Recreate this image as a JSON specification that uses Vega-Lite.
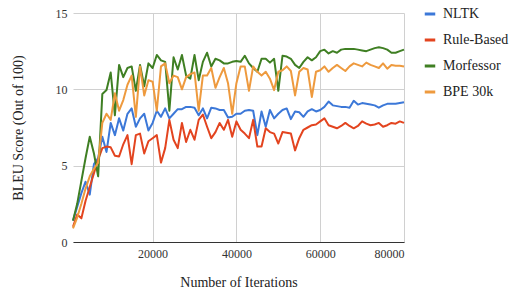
{
  "$schema": "https://vega.github.io/schema/vega-lite/v6.json",
  "autosize": {"type": "none"},
  "width": 331,
  "height": 229,
  "padding": {"left": 73, "top": 13, "right": 108, "bottom": 58},
  "background": "white",
  "datasets": {
    "d": [
      {"i":1000,"m":"NLTK","b":1.4},{"i":2000,"m":"NLTK","b":2.3},{"i":3000,"m":"NLTK","b":3.2},{"i":4000,"m":"NLTK","b":3.95},{"i":5000,"m":"NLTK","b":3.1},{"i":6000,"m":"NLTK","b":5.1},{"i":7000,"m":"NLTK","b":5.5},{"i":8000,"m":"NLTK","b":6.9},{"i":9000,"m":"NLTK","b":5.9},{"i":10000,"m":"NLTK","b":7.8},
      {"i":11000,"m":"NLTK","b":7.0},{"i":12000,"m":"NLTK","b":8.1},{"i":13000,"m":"NLTK","b":7.3},{"i":14000,"m":"NLTK","b":8.4},{"i":15000,"m":"NLTK","b":8.75},{"i":16000,"m":"NLTK","b":7.55},{"i":17000,"m":"NLTK","b":8.1},{"i":18000,"m":"NLTK","b":8.4},{"i":19000,"m":"NLTK","b":7.3},{"i":20000,"m":"NLTK","b":7.8},
      {"i":21000,"m":"NLTK","b":8.6},{"i":22000,"m":"NLTK","b":8.2},{"i":23000,"m":"NLTK","b":8.75},{"i":24000,"m":"NLTK","b":8.1},{"i":25000,"m":"NLTK","b":8.4},{"i":26000,"m":"NLTK","b":8.7},{"i":27000,"m":"NLTK","b":8.7},{"i":28000,"m":"NLTK","b":8.85},{"i":29000,"m":"NLTK","b":8.85},{"i":30000,"m":"NLTK","b":8.8},
      {"i":31000,"m":"NLTK","b":8.3},{"i":32000,"m":"NLTK","b":8.75},{"i":33000,"m":"NLTK","b":8.1},{"i":34000,"m":"NLTK","b":8.8},{"i":35000,"m":"NLTK","b":8.75},{"i":36000,"m":"NLTK","b":8.65},{"i":37000,"m":"NLTK","b":8.65},{"i":38000,"m":"NLTK","b":8.15},{"i":39000,"m":"NLTK","b":8.2},{"i":40000,"m":"NLTK","b":8.4},
      {"i":41000,"m":"NLTK","b":8.4},{"i":42000,"m":"NLTK","b":8.6},{"i":43000,"m":"NLTK","b":8.65},{"i":44000,"m":"NLTK","b":8.6},{"i":45000,"m":"NLTK","b":7.0},{"i":46000,"m":"NLTK","b":8.55},{"i":47000,"m":"NLTK","b":7.55},{"i":48000,"m":"NLTK","b":8.65},{"i":49000,"m":"NLTK","b":8.1},{"i":50000,"m":"NLTK","b":8.4},
      {"i":51000,"m":"NLTK","b":8.65},{"i":52000,"m":"NLTK","b":8.75},{"i":53000,"m":"NLTK","b":8.05},{"i":54000,"m":"NLTK","b":8.55},{"i":55000,"m":"NLTK","b":8.5},{"i":56000,"m":"NLTK","b":8.2},{"i":57000,"m":"NLTK","b":8.55},{"i":58000,"m":"NLTK","b":8.7},{"i":59000,"m":"NLTK","b":8.55},{"i":60000,"m":"NLTK","b":8.65},
      {"i":61000,"m":"NLTK","b":8.85},{"i":62000,"m":"NLTK","b":9.2},{"i":63000,"m":"NLTK","b":8.95},{"i":64000,"m":"NLTK","b":8.9},{"i":65000,"m":"NLTK","b":8.85},{"i":66000,"m":"NLTK","b":8.85},{"i":67000,"m":"NLTK","b":8.8},{"i":68000,"m":"NLTK","b":9.25},{"i":69000,"m":"NLTK","b":9.0},{"i":70000,"m":"NLTK","b":9.1},
      {"i":71000,"m":"NLTK","b":9.05},{"i":72000,"m":"NLTK","b":9.0},{"i":73000,"m":"NLTK","b":8.95},{"i":74000,"m":"NLTK","b":8.8},{"i":75000,"m":"NLTK","b":8.95},{"i":76000,"m":"NLTK","b":9.05},{"i":77000,"m":"NLTK","b":9.05},{"i":78000,"m":"NLTK","b":9.05},{"i":79000,"m":"NLTK","b":9.1},{"i":80000,"m":"NLTK","b":9.15},

      {"i":1000,"m":"Rule-Based","b":1.0},{"i":2000,"m":"Rule-Based","b":1.8},{"i":3000,"m":"Rule-Based","b":1.55},{"i":4000,"m":"Rule-Based","b":2.7},{"i":5000,"m":"Rule-Based","b":3.6},{"i":6000,"m":"Rule-Based","b":4.5},{"i":7000,"m":"Rule-Based","b":5.4},{"i":8000,"m":"Rule-Based","b":6.15},{"i":9000,"m":"Rule-Based","b":6.25},{"i":10000,"m":"Rule-Based","b":6.2},
      {"i":11000,"m":"Rule-Based","b":5.65},{"i":12000,"m":"Rule-Based","b":5.6},{"i":13000,"m":"Rule-Based","b":6.4},{"i":14000,"m":"Rule-Based","b":7.0},{"i":15000,"m":"Rule-Based","b":5.1},{"i":16000,"m":"Rule-Based","b":7.0},{"i":17000,"m":"Rule-Based","b":7.1},{"i":18000,"m":"Rule-Based","b":5.8},{"i":19000,"m":"Rule-Based","b":6.6},{"i":20000,"m":"Rule-Based","b":6.8},
      {"i":21000,"m":"Rule-Based","b":7.0},{"i":22000,"m":"Rule-Based","b":5.2},{"i":23000,"m":"Rule-Based","b":6.15},{"i":24000,"m":"Rule-Based","b":8.0},{"i":25000,"m":"Rule-Based","b":6.7},{"i":26000,"m":"Rule-Based","b":6.15},{"i":27000,"m":"Rule-Based","b":7.8},{"i":28000,"m":"Rule-Based","b":6.55},{"i":29000,"m":"Rule-Based","b":7.35},{"i":30000,"m":"Rule-Based","b":6.7},
      {"i":31000,"m":"Rule-Based","b":8.0},{"i":32000,"m":"Rule-Based","b":8.35},{"i":33000,"m":"Rule-Based","b":7.55},{"i":34000,"m":"Rule-Based","b":6.8},{"i":35000,"m":"Rule-Based","b":7.2},{"i":36000,"m":"Rule-Based","b":7.8},{"i":37000,"m":"Rule-Based","b":7.35},{"i":38000,"m":"Rule-Based","b":8.0},{"i":39000,"m":"Rule-Based","b":6.9},{"i":40000,"m":"Rule-Based","b":7.9},
      {"i":41000,"m":"Rule-Based","b":7.35},{"i":42000,"m":"Rule-Based","b":7.1},{"i":43000,"m":"Rule-Based","b":6.8},{"i":44000,"m":"Rule-Based","b":8.0},{"i":45000,"m":"Rule-Based","b":6.25},{"i":46000,"m":"Rule-Based","b":6.25},{"i":47000,"m":"Rule-Based","b":7.45},{"i":48000,"m":"Rule-Based","b":7.2},{"i":49000,"m":"Rule-Based","b":7.1},{"i":50000,"m":"Rule-Based","b":6.45},
      {"i":51000,"m":"Rule-Based","b":7.2},{"i":52000,"m":"Rule-Based","b":7.15},{"i":53000,"m":"Rule-Based","b":7.1},{"i":54000,"m":"Rule-Based","b":6.0},{"i":55000,"m":"Rule-Based","b":6.8},{"i":56000,"m":"Rule-Based","b":7.35},{"i":57000,"m":"Rule-Based","b":7.5},{"i":58000,"m":"Rule-Based","b":7.65},{"i":59000,"m":"Rule-Based","b":7.7},{"i":60000,"m":"Rule-Based","b":7.9},
      {"i":61000,"m":"Rule-Based","b":8.1},{"i":62000,"m":"Rule-Based","b":7.65},{"i":63000,"m":"Rule-Based","b":7.55},{"i":64000,"m":"Rule-Based","b":7.45},{"i":65000,"m":"Rule-Based","b":7.6},{"i":66000,"m":"Rule-Based","b":7.8},{"i":67000,"m":"Rule-Based","b":7.6},{"i":68000,"m":"Rule-Based","b":7.45},{"i":69000,"m":"Rule-Based","b":7.6},{"i":70000,"m":"Rule-Based","b":7.9},
      {"i":71000,"m":"Rule-Based","b":7.75},{"i":72000,"m":"Rule-Based","b":7.65},{"i":73000,"m":"Rule-Based","b":7.7},{"i":74000,"m":"Rule-Based","b":7.8},{"i":75000,"m":"Rule-Based","b":7.55},{"i":76000,"m":"Rule-Based","b":7.65},{"i":77000,"m":"Rule-Based","b":7.8},{"i":78000,"m":"Rule-Based","b":7.75},{"i":79000,"m":"Rule-Based","b":7.9},{"i":80000,"m":"Rule-Based","b":7.8},

      {"i":1000,"m":"Morfessor","b":1.4},{"i":2000,"m":"Morfessor","b":2.5},{"i":3000,"m":"Morfessor","b":4.0},{"i":4000,"m":"Morfessor","b":5.5},{"i":5000,"m":"Morfessor","b":6.9},{"i":6000,"m":"Morfessor","b":5.8},{"i":7000,"m":"Morfessor","b":4.3},{"i":8000,"m":"Morfessor","b":9.7},{"i":9000,"m":"Morfessor","b":9.95},{"i":10000,"m":"Morfessor","b":11.1},
      {"i":11000,"m":"Morfessor","b":8.3},{"i":12000,"m":"Morfessor","b":11.6},{"i":13000,"m":"Morfessor","b":10.8},{"i":14000,"m":"Morfessor","b":11.4},{"i":15000,"m":"Morfessor","b":11.5},{"i":16000,"m":"Morfessor","b":9.9},{"i":17000,"m":"Morfessor","b":11.6},{"i":18000,"m":"Morfessor","b":10.2},{"i":19000,"m":"Morfessor","b":11.7},{"i":20000,"m":"Morfessor","b":11.4},
      {"i":21000,"m":"Morfessor","b":12.25},{"i":22000,"m":"Morfessor","b":11.9},{"i":23000,"m":"Morfessor","b":11.8},{"i":24000,"m":"Morfessor","b":8.6},{"i":25000,"m":"Morfessor","b":12.1},{"i":26000,"m":"Morfessor","b":11.3},{"i":27000,"m":"Morfessor","b":12.25},{"i":28000,"m":"Morfessor","b":10.9},{"i":29000,"m":"Morfessor","b":10.7},{"i":30000,"m":"Morfessor","b":12.25},
      {"i":31000,"m":"Morfessor","b":10.6},{"i":32000,"m":"Morfessor","b":11.8},{"i":33000,"m":"Morfessor","b":12.4},{"i":34000,"m":"Morfessor","b":11.5},{"i":35000,"m":"Morfessor","b":12.0},{"i":36000,"m":"Morfessor","b":11.9},{"i":37000,"m":"Morfessor","b":11.7},{"i":38000,"m":"Morfessor","b":11.7},{"i":39000,"m":"Morfessor","b":11.8},{"i":40000,"m":"Morfessor","b":11.85},
      {"i":41000,"m":"Morfessor","b":11.8},{"i":42000,"m":"Morfessor","b":12.2},{"i":43000,"m":"Morfessor","b":11.7},{"i":44000,"m":"Morfessor","b":11.4},{"i":45000,"m":"Morfessor","b":11.15},{"i":46000,"m":"Morfessor","b":12.0},{"i":47000,"m":"Morfessor","b":12.0},{"i":48000,"m":"Morfessor","b":11.75},{"i":49000,"m":"Morfessor","b":12.0},{"i":50000,"m":"Morfessor","b":9.9},
      {"i":51000,"m":"Morfessor","b":12.2},{"i":52000,"m":"Morfessor","b":12.15},{"i":53000,"m":"Morfessor","b":12.0},{"i":54000,"m":"Morfessor","b":11.6},{"i":55000,"m":"Morfessor","b":11.4},{"i":56000,"m":"Morfessor","b":11.8},{"i":57000,"m":"Morfessor","b":12.1},{"i":58000,"m":"Morfessor","b":11.9},{"i":59000,"m":"Morfessor","b":12.1},{"i":60000,"m":"Morfessor","b":12.5},
      {"i":61000,"m":"Morfessor","b":12.6},{"i":62000,"m":"Morfessor","b":12.35},{"i":63000,"m":"Morfessor","b":12.5},{"i":64000,"m":"Morfessor","b":12.4},{"i":65000,"m":"Morfessor","b":12.6},{"i":66000,"m":"Morfessor","b":12.65},{"i":67000,"m":"Morfessor","b":12.65},{"i":68000,"m":"Morfessor","b":12.65},{"i":69000,"m":"Morfessor","b":12.6},{"i":70000,"m":"Morfessor","b":12.55},
      {"i":71000,"m":"Morfessor","b":12.5},{"i":72000,"m":"Morfessor","b":12.6},{"i":73000,"m":"Morfessor","b":12.7},{"i":74000,"m":"Morfessor","b":12.75},{"i":75000,"m":"Morfessor","b":12.7},{"i":76000,"m":"Morfessor","b":12.6},{"i":77000,"m":"Morfessor","b":12.4},{"i":78000,"m":"Morfessor","b":12.4},{"i":79000,"m":"Morfessor","b":12.5},{"i":80000,"m":"Morfessor","b":12.6},

      {"i":1000,"m":"BPE 30k","b":0.9},{"i":2000,"m":"BPE 30k","b":1.6},{"i":3000,"m":"BPE 30k","b":2.5},{"i":4000,"m":"BPE 30k","b":3.5},{"i":5000,"m":"BPE 30k","b":4.3},{"i":6000,"m":"BPE 30k","b":4.8},{"i":7000,"m":"BPE 30k","b":5.2},{"i":8000,"m":"BPE 30k","b":7.8},{"i":9000,"m":"BPE 30k","b":8.4},{"i":10000,"m":"BPE 30k","b":8.0},
      {"i":11000,"m":"BPE 30k","b":9.75},{"i":12000,"m":"BPE 30k","b":8.6},{"i":13000,"m":"BPE 30k","b":9.3},{"i":14000,"m":"BPE 30k","b":10.3},{"i":15000,"m":"BPE 30k","b":10.9},{"i":16000,"m":"BPE 30k","b":8.2},{"i":17000,"m":"BPE 30k","b":11.5},{"i":18000,"m":"BPE 30k","b":9.6},{"i":19000,"m":"BPE 30k","b":10.6},{"i":20000,"m":"BPE 30k","b":10.5},
      {"i":21000,"m":"BPE 30k","b":8.6},{"i":22000,"m":"BPE 30k","b":11.5},{"i":23000,"m":"BPE 30k","b":11.7},{"i":24000,"m":"BPE 30k","b":10.4},{"i":25000,"m":"BPE 30k","b":10.9},{"i":26000,"m":"BPE 30k","b":10.8},{"i":27000,"m":"BPE 30k","b":10.0},{"i":28000,"m":"BPE 30k","b":10.8},{"i":29000,"m":"BPE 30k","b":11.0},{"i":30000,"m":"BPE 30k","b":11.1},
      {"i":31000,"m":"BPE 30k","b":8.6},{"i":32000,"m":"BPE 30k","b":10.9},{"i":33000,"m":"BPE 30k","b":10.9},{"i":34000,"m":"BPE 30k","b":11.4},{"i":35000,"m":"BPE 30k","b":10.1},{"i":36000,"m":"BPE 30k","b":10.8},{"i":37000,"m":"BPE 30k","b":11.4},{"i":38000,"m":"BPE 30k","b":10.4},{"i":39000,"m":"BPE 30k","b":8.4},{"i":40000,"m":"BPE 30k","b":10.4},
      {"i":41000,"m":"BPE 30k","b":11.5},{"i":42000,"m":"BPE 30k","b":11.5},{"i":43000,"m":"BPE 30k","b":9.9},{"i":44000,"m":"BPE 30k","b":11.5},{"i":45000,"m":"BPE 30k","b":11.15},{"i":46000,"m":"BPE 30k","b":10.9},{"i":47000,"m":"BPE 30k","b":11.15},{"i":48000,"m":"BPE 30k","b":10.7},{"i":49000,"m":"BPE 30k","b":9.95},{"i":50000,"m":"BPE 30k","b":11.15},
      {"i":51000,"m":"BPE 30k","b":11.25},{"i":52000,"m":"BPE 30k","b":11.5},{"i":53000,"m":"BPE 30k","b":11.2},{"i":54000,"m":"BPE 30k","b":9.6},{"i":55000,"m":"BPE 30k","b":11.15},{"i":56000,"m":"BPE 30k","b":11.4},{"i":57000,"m":"BPE 30k","b":11.3},{"i":58000,"m":"BPE 30k","b":9.5},{"i":59000,"m":"BPE 30k","b":11.15},{"i":60000,"m":"BPE 30k","b":11.25},
      {"i":61000,"m":"BPE 30k","b":11.5},{"i":62000,"m":"BPE 30k","b":11.15},{"i":63000,"m":"BPE 30k","b":11.4},{"i":64000,"m":"BPE 30k","b":11.6},{"i":65000,"m":"BPE 30k","b":11.4},{"i":66000,"m":"BPE 30k","b":11.2},{"i":67000,"m":"BPE 30k","b":11.5},{"i":68000,"m":"BPE 30k","b":11.7},{"i":69000,"m":"BPE 30k","b":11.6},{"i":70000,"m":"BPE 30k","b":11.5},
      {"i":71000,"m":"BPE 30k","b":11.75},{"i":72000,"m":"BPE 30k","b":11.6},{"i":73000,"m":"BPE 30k","b":11.5},{"i":74000,"m":"BPE 30k","b":11.4},{"i":75000,"m":"BPE 30k","b":11.7},{"i":76000,"m":"BPE 30k","b":11.35},{"i":77000,"m":"BPE 30k","b":11.6},{"i":78000,"m":"BPE 30k","b":11.55},{"i":79000,"m":"BPE 30k","b":11.55},{"i":80000,"m":"BPE 30k","b":11.5}
    ]
  },
  "data": {"name": "d"},
  "mark": {"type": "line", "strokeWidth": 2, "strokeJoin": "round"},
  "encoding": {
    "x": {
      "field": "i", "type": "quantitative",
      "scale": {"domain": [1000, 80000], "nice": false, "zero": false},
      "axis": {
        "title": "Number of Iterations",
        "values": [20000, 40000, 60000, 80000],
        "format": "d",
        "grid": true,
        "domain": true, "domainColor": "#333333", "domainWidth": 1,
        "ticks": false,
        "labelPadding": 6,
        "titlePadding": 16,
        "labelFont": "Liberation Serif",
        "titleFont": "Liberation Serif",
        "labelFontSize": 12,
        "titleFontSize": 14
      }
    },
    "y": {
      "field": "b", "type": "quantitative",
      "scale": {"domain": [0, 15], "nice": false},
      "axis": {
        "title": "BLEU Score (Out of 100)",
        "values": [0, 5, 10, 15],
        "grid": true,
        "domain": false,
        "ticks": false,
        "labelPadding": 6,
        "titlePadding": 30,
        "labelFont": "Liberation Serif",
        "titleFont": "Liberation Serif",
        "labelFontSize": 12,
        "titleFontSize": 14
      }
    },
    "color": {
      "field": "m", "type": "nominal",
      "scale": {
        "domain": ["NLTK", "Rule-Based", "Morfessor", "BPE 30k"],
        "range": ["#3c78d8", "#e3441f", "#3f7f23", "#ee9a3e"]
      },
      "legend": {
        "title": null,
        "orient": "none",
        "legendX": 350,
        "legendY": -6,
        "symbolType": "stroke",
        "symbolSize": 110,
        "symbolStrokeWidth": 3,
        "labelFont": "Liberation Serif",
        "labelFontSize": 14,
        "labelOffset": 6,
        "rowPadding": 12,
        "labelColor": "#222222"
      }
    }
  },
  "config": {
    "view": {"stroke": null},
    "font": "Liberation Serif",
    "axis": {
      "labelColor": "#333333",
      "titleColor": "#222222",
      "titleFontWeight": "normal",
      "gridColor": "#d0d0d0",
      "gridWidth": 1
    }
  }
}
